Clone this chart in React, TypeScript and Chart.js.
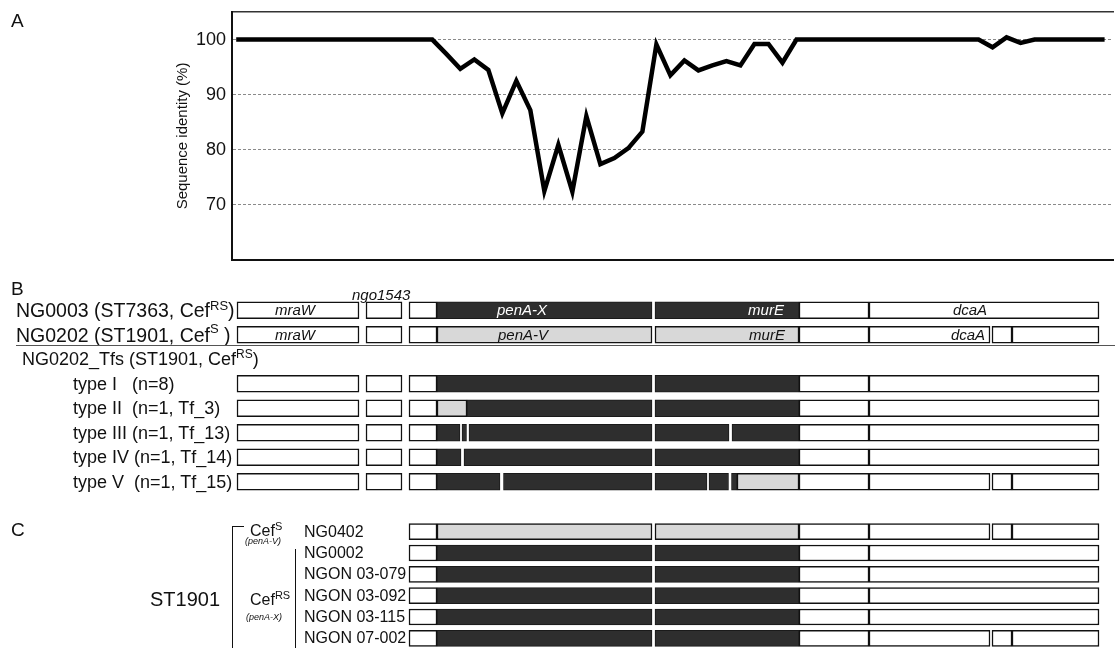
import React, { useEffect, useRef } from "react";
import { Chart, registerables } from "chart.js";

Chart.register(...registerables);

const FONT = '"Liberation Sans", Arial, Helvetica, sans-serif';

// ---------- Panel A: sliding-window sequence identity ----------
const WINDOW_POS = [
  1, 2, 3, 4, 5, 6, 7, 8, 9, 10, 11, 12, 13, 14, 15, 16, 17, 18, 19, 20, 21,
  22, 23, 24, 25, 26, 27, 28, 29, 30, 31, 32, 33, 34, 35, 36, 37, 38, 39, 40,
  41, 42, 43, 44, 45, 46, 47, 48, 49, 50, 51, 52, 53, 54, 55, 56, 57, 58, 59,
  60, 61, 62, 63,
];
const IDENTITY = [
  100, 100, 100, 100, 100, 100, 100, 100, 100, 100, 100, 100, 100, 100, 100,
  97.4, 94.7, 96.4, 94.5, 86.6, 92.5, 87.2, 72.5, 80.9, 72.4, 86.1, 77.4, 78.5,
  80.3, 83.3, 99.1, 93.5, 96.2, 94.4, 95.3, 96.1, 95.3, 99.2, 99.2, 95.8,
  100, 100, 100, 100, 100, 100, 100, 100, 100, 100, 100, 100, 100, 100,
  98.6, 100.4, 99.4, 100, 100, 100, 100, 100, 100,
];
const Y_TICK_VALUES = [70, 80, 90, 100];
const Y_TITLE = "Sequence identity (%)";

// ---------- Panels B and C: locus diagram ----------
const ROWS_B = ["NG0003", "NG0202", "NG0202_Tfs", "type I", "type II", "type III", "type IV", "type V"];
const ROWS_C = ["NG0402", "NG0002", "NGON 03-079", "NGON 03-092", "NGON 03-115", "NGON 07-002"];
const TYPE_ROW_TEXT = [
  "type I   (n=8)",
  "type II  (n=1, Tf_3)",
  "type III (n=1, Tf_13)",
  "type IV (n=1, Tf_14)",
  "type V  (n=1, Tf_15)",
];

// segments [start, end] along the locus (diagram units, mraW start = 0)
const FLANK_LEFT = [[0, 122], [129, 165], [172, 200]];
const FLANK_C = [[172, 200]];
const FLANK_RIGHT = [[562, 632], [632, 862]];
const FLANK_RIGHT_SPLIT = [[562, 632], [632, 753], [755, 775], [775, 862]];
const PENA_MURE = [[200, 415], [418, 562]];
const TYPE_II_LIGHT = [[200, 230]];
const TYPE_II_DARK = [[230, 415], [418, 562]];
const TYPE_III_DARK = [[200, 223], [225, 229.5], [232, 415], [418, 492], [495, 562]];
const TYPE_IV_DARK = [[200, 224], [227, 415], [418, 562]];
const TYPE_V_DARK = [[200, 263], [266.5, 415], [418, 470], [472, 491.5], [494.5, 500]];
const TYPE_V_LIGHT = [[500, 562]];

const B_WHITE = [
  ["NG0003", FLANK_LEFT], ["NG0003", FLANK_RIGHT],
  ["NG0202", FLANK_LEFT], ["NG0202", FLANK_RIGHT_SPLIT],
  ["type I", FLANK_LEFT], ["type I", FLANK_RIGHT],
  ["type II", FLANK_LEFT], ["type II", FLANK_RIGHT],
  ["type III", FLANK_LEFT], ["type III", FLANK_RIGHT],
  ["type IV", FLANK_LEFT], ["type IV", FLANK_RIGHT],
  ["type V", FLANK_LEFT], ["type V", FLANK_RIGHT_SPLIT],
];
const B_DARK = [
  ["NG0003", PENA_MURE], ["type I", PENA_MURE], ["type II", TYPE_II_DARK],
  ["type III", TYPE_III_DARK], ["type IV", TYPE_IV_DARK], ["type V", TYPE_V_DARK],
];
const B_LIGHT = [["NG0202", PENA_MURE], ["type II", TYPE_II_LIGHT], ["type V", TYPE_V_LIGHT]];

const C_WHITE = [
  ["NG0402", FLANK_C], ["NG0402", FLANK_RIGHT_SPLIT],
  ["NG0002", FLANK_C], ["NG0002", FLANK_RIGHT],
  ["NGON 03-079", FLANK_C], ["NGON 03-079", FLANK_RIGHT],
  ["NGON 03-092", FLANK_C], ["NGON 03-092", FLANK_RIGHT],
  ["NGON 03-115", FLANK_C], ["NGON 03-115", FLANK_RIGHT],
  ["NGON 07-002", FLANK_C], ["NGON 07-002", FLANK_RIGHT_SPLIT],
];
const C_DARK = [
  ["NG0002", PENA_MURE], ["NGON 03-079", PENA_MURE], ["NGON 03-092", PENA_MURE],
  ["NGON 03-115", PENA_MURE], ["NGON 07-002", PENA_MURE],
];
const C_LIGHT = [["NG0402", PENA_MURE]];

// gene name labels: [row, centre position, text, drawn on dark fill]
const GENE_LABELS_B = [
  ["NG0003", 58, "mraW", false], ["NG0003", 285, "penA-X", true],
  ["NG0003", 529, "murE", true], ["NG0003", 733, "dcaA", false],
  ["NG0202", 58, "mraW", false], ["NG0202", 286, "penA-V", false],
  ["NG0202", 530, "murE", false], ["NG0202", 731, "dcaA", false],
];

const toBars = (groups: any[]) =>
  groups.flatMap(([row, segs]: any) => segs.map(([a, b]: number[]) => ({ y: row, x: [a, b] })));

// layout constants (page pixels)
const B_TOP = 298;
const B_HEIGHT = 196;
const C_TOP = 521;
const C_HEIGHT = 128;

function IdentityChart() {
  const ref = useRef<HTMLCanvasElement>(null);
  useEffect(() => {
    const chart = new Chart(ref.current!, {
      type: "line",
      data: {
        datasets: [
          {
            data: WINDOW_POS.map((p, i) => ({ x: p, y: IDENTITY[i] })),
            borderColor: "#000",
            borderWidth: 4.5,
            pointRadius: 0,
            tension: 0,
            borderJoinStyle: "miter",
          },
        ],
      },
      options: {
        animation: false,
        responsive: false,
        maintainAspectRatio: false,
        layout: { padding: { left: 170, top: 12, right: 2, bottom: 10 } },
        plugins: { legend: { display: false }, tooltip: { enabled: false } },
        scales: {
          x: {
            type: "linear",
            min: 0.7,
            max: 63.6,
            ticks: { display: false },
            grid: { display: false, drawTicks: false },
            border: { display: true, color: "#111", width: 2 },
            afterFit: (s: any) => {
              s.height = 0;
            },
          },
          xTop: {
            type: "linear",
            position: "top",
            min: 0.7,
            max: 63.6,
            ticks: { display: false },
            grid: { display: false, drawTicks: false },
            border: { display: true, color: "#333", width: 1.5 },
            afterFit: (s: any) => {
              s.height = 0;
            },
          },
          y: {
            type: "linear",
            min: 60,
            max: 105,
            ticks: {
              stepSize: 10,
              padding: 6,
              color: "#111",
              font: { family: FONT, size: 18, lineHeight: 0.4 },
              callback: (v: any) => (Y_TICK_VALUES.includes(Number(v)) ? String(v) : ""),
            },
            grid: {
              drawTicks: false,
              color: (ctx: any) =>
                Y_TICK_VALUES.includes(ctx.tick && ctx.tick.value) ? "#8a8a8a" : "rgba(0,0,0,0)",
              lineWidth: 1,
            },
            border: { display: true, color: "#111", width: 2, dash: [3, 2] },
            title: {
              display: true,
              text: Y_TITLE,
              color: "#111",
              font: { family: FONT, size: 15 },
              padding: { top: 4, bottom: 0 },
            },
            afterFit: (s: any) => {
              s.width = 62;
            },
          },
        },
      },
    } as any);
    return () => chart.destroy();
  }, []);
  return (
    <canvas
      ref={ref}
      width={1115}
      height={270}
      style={{ position: "absolute", left: 0, top: 0, width: 1115, height: 270 }}
    />
  );
}

function LocusChart(props: {
  rows: string[];
  white: any[];
  dark: any[];
  light: any[];
  labels: any[];
  top: number;
  height: number;
  thickness: number;
}) {
  const ref = useRef<HTMLCanvasElement>(null);
  useEffect(() => {
    const { rows, white, dark, light, labels, thickness } = props;
    const geneLabels = {
      id: "geneLabels",
      afterDatasetsDraw(chart: any) {
        const { ctx, scales } = chart;
        const xs = scales.x;
        const ys = scales.y;
        ctx.save();
        ctx.font = `italic 15px ${FONT}`;
        ctx.textAlign = "center";
        ctx.textBaseline = "middle";
        for (const [row, pos, text, onDark] of labels) {
          ctx.fillStyle = onDark ? "#fff" : "#111";
          ctx.fillText(text, xs.getPixelForValue(pos), ys.getPixelForValue(rows.indexOf(row)) + 1);
        }
        ctx.restore();
      },
    };
    const common = {
      grouped: false,
      borderSkipped: false,
      barThickness: thickness,
    };
    const chart = new Chart(ref.current!, {
      type: "bar",
      data: {
        labels: rows,
        datasets: [
          { ...common, data: toBars(dark), backgroundColor: "#2e2e2e", borderColor: "#1a1a1a", borderWidth: 1 },
          { ...common, data: toBars(light), backgroundColor: "#d8d8d8", borderColor: "#111", borderWidth: 1.5 },
          { ...common, data: toBars(white), backgroundColor: "#ffffff", borderColor: "#111", borderWidth: 1.5 },
        ],
      },
      options: {
        indexAxis: "y",
        animation: false,
        responsive: false,
        maintainAspectRatio: false,
        layout: { padding: 0 },
        plugins: { legend: { display: false }, tooltip: { enabled: false } },
        scales: {
          x: { type: "linear", min: -237, max: 878, display: false },
          y: { type: "category", display: false, offset: true },
        },
      },
      plugins: [geneLabels],
    } as any);
    return () => chart.destroy();
  }, []);
  return (
    <canvas
      ref={ref}
      width={1115}
      height={props.height}
      style={{ position: "absolute", left: 0, top: props.top, width: 1115, height: props.height }}
    />
  );
}

const Sup = ({ children, size = 12, raise = 7 }: any) => (
  <span style={{ fontSize: size, position: "relative", top: -raise }}>{children}</span>
);

const Txt = ({ x, y, size = 18, h = 24, style = {}, children }: any) => (
  <div
    style={{
      position: "absolute",
      left: x,
      top: y - h / 2,
      height: h,
      lineHeight: `${h}px`,
      fontSize: size,
      whiteSpace: "pre",
      ...style,
    }}
  >
    {children}
  </div>
);

export default function App() {
  useEffect(() => {
    document.body.style.margin = "0";
    document.documentElement.style.overflow = "hidden";
    document.body.style.overflow = "hidden";
  }, []);

  const bBand = B_HEIGHT / ROWS_B.length;
  const cBand = C_HEIGHT / ROWS_C.length;
  const bY = (i: number) => B_TOP + bBand * (i + 0.5);
  const cY = (i: number) => C_TOP + cBand * (i + 0.5);

  return (
    <div
      style={{
        position: "relative",
        width: 1115,
        height: 648,
        overflow: "hidden",
        background: "#fff",
        fontFamily: FONT,
        color: "#111",
      }}
    >
      <IdentityChart />
      <LocusChart
        rows={ROWS_B}
        white={B_WHITE}
        dark={B_DARK}
        light={B_LIGHT}
        labels={GENE_LABELS_B}
        top={B_TOP}
        height={B_HEIGHT}
        thickness={17}
      />
      <LocusChart
        rows={ROWS_C}
        white={C_WHITE}
        dark={C_DARK}
        light={C_LIGHT}
        labels={[]}
        top={C_TOP}
        height={C_HEIGHT}
        thickness={16}
      />

      {/* panel letters */}
      <Txt x={11} y={21} size={19}>A</Txt>
      <Txt x={11} y={289} size={19}>B</Txt>
      <Txt x={11} y={530} size={19}>C</Txt>

      {/* panel B labels */}
      <Txt x={352} y={295} size={15} style={{ fontStyle: "italic" }}>ngo1543</Txt>
      <Txt x={16} y={bY(0)} size={19.5}>
        NG0003 (ST7363, Cef<Sup size={13}>RS</Sup>)
      </Txt>
      <Txt x={16} y={bY(1)} size={19.5}>
        NG0202 (ST1901, Cef<Sup size={13} raise={9}>S</Sup> )
      </Txt>
      <div
        style={{
          position: "absolute",
          left: 16,
          top: 345,
          width: 1100,
          height: 0,
          borderTop: "1.5px solid #555",
        }}
      />
      <Txt x={22} y={bY(2)}>
        NG0202_Tfs (ST1901, Cef<Sup>RS</Sup>)
      </Txt>
      {TYPE_ROW_TEXT.map((t, i) => (
        <Txt key={t} x={73} y={bY(3 + i)}>{t}</Txt>
      ))}

      {/* panel C labels */}
      <Txt x={150} y={599} size={20}>ST1901</Txt>
      <div style={{ position: "absolute", left: 232, top: 526, width: 11, height: 130, borderLeft: "1.5px solid #111", borderTop: "1.5px solid #111" }} />
      <div style={{ position: "absolute", left: 295, top: 549, width: 0, height: 110, borderLeft: "1.5px solid #111" }} />
      <Txt x={250} y={531} size={16} h={18}>
        Cef<Sup size={11} raise={6}>S</Sup>
      </Txt>
      <Txt x={245} y={541} size={9} h={10} style={{ fontStyle: "italic" }}>(penA-V)</Txt>
      <Txt x={250} y={600} size={16} h={18}>
        Cef<Sup size={11} raise={6}>RS</Sup>
      </Txt>
      <Txt x={246} y={617} size={9} h={10} style={{ fontStyle: "italic" }}>(penA-X)</Txt>
      {ROWS_C.map((r, i) => (
        <Txt key={r} x={304} y={cY(i)} size={16} h={20}>{r}</Txt>
      ))}
    </div>
  );
}
